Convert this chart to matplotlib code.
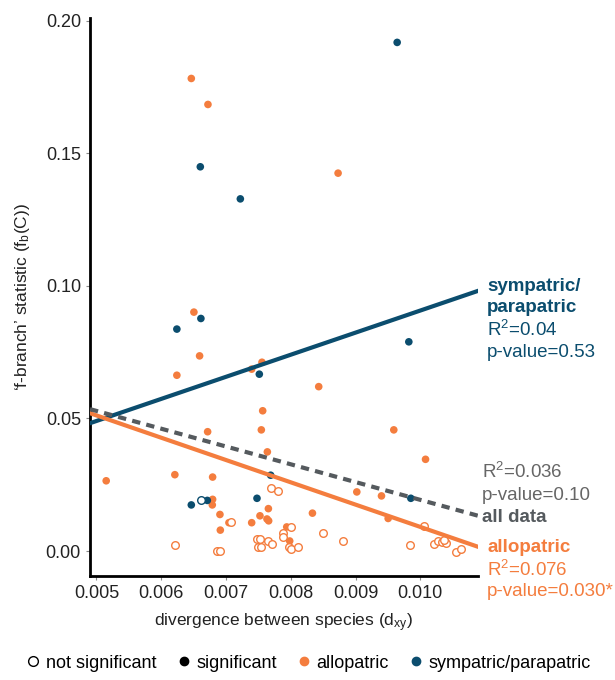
import matplotlib.pyplot as plt
from matplotlib.lines import Line2D
import numpy as np

plt.rcParams['font.family'] = ['Liberation Sans', 'DejaVu Sans']
plt.rcParams['mathtext.fontset'] = 'custom'
plt.rcParams['mathtext.rm'] = 'Liberation Sans'
plt.rcParams['mathtext.it'] = 'Liberation Sans'

orange = '#F47D3E'
blue = '#0B4D6E'
grey = '#555A5E'

# sympatric/parapatric points (dxy, fb)
symp_sig_x = [0.009642, 0.006603, 0.007221, 0.006612, 0.006241, 0.009822, 0.007514,
              0.007689, 0.009853, 0.006464, 0.006711, 0.007478]
symp_sig_y = [0.1918, 0.1449, 0.1328, 0.0877, 0.0837, 0.0789, 0.0667,
              0.0286, 0.0199, 0.0174, 0.0191, 0.0199]
symp_ns_x = [0.006607]
symp_ns_y = [0.0194]

# allopatric points
allo_sig_x = [0.006464, 0.006721, 0.008730, 0.006504, 0.006592, 0.007555, 0.007396, 0.006241,
              0.008431, 0.007566, 0.007545, 0.006716, 0.009590, 0.007638, 0.010080, 0.005150,
              0.006210, 0.006793, 0.009019, 0.009400, 0.006793, 0.006788, 0.007654, 0.007524,
              0.006906, 0.008334, 0.009503, 0.007632, 0.007658, 0.007045, 0.007396, 0.006912,
              0.007937, 0.007983]
allo_sig_y = [0.1782, 0.1684, 0.1425, 0.0901, 0.0736, 0.0712, 0.0686, 0.0663,
              0.0620, 0.0529, 0.0457, 0.0450, 0.0457, 0.0374, 0.0346, 0.0265,
              0.0288, 0.0279, 0.0223, 0.0208, 0.0195, 0.0174, 0.0160, 0.0133,
              0.0138, 0.0143, 0.0123, 0.0121, 0.0114, 0.0107, 0.0107, 0.0079,
              0.0091, 0.0038]
allo_ns_x = [0.007700, 0.007802, 0.007076, 0.008003, 0.007875, 0.007880, 0.008498, 0.008813,
             0.010064, 0.006206, 0.007473, 0.007524, 0.007493, 0.007545, 0.007647, 0.007705,
             0.007973, 0.008003, 0.008111, 0.006859, 0.006912, 0.009838, 0.010213, 0.010275,
             0.010337, 0.010394, 0.010363, 0.010544, 0.010631]
allo_ns_y = [0.0237, 0.0226, 0.0108, 0.0091, 0.0068, 0.0053, 0.0068, 0.0038,
             0.0093, 0.0023, 0.0044, 0.0046, 0.0014, 0.0014, 0.0037, 0.0028,
             0.0016, 0.0009, 0.0014, 0.0001, 0.0001, 0.0023, 0.0028, 0.0037,
             0.0034, 0.0031, 0.0040, -0.0003, 0.0006]

# regression fits: intercept, slope
fit_symp = (0.0074, 8.33)
fit_allo = (0.0932, -8.41)
fit_all = (0.0864, -6.71)

xlim = (0.0049, 0.01089)
ylim = (-0.0094, 0.201)

fig = plt.figure(figsize=(6.15, 6.8), dpi=100)
ax = fig.add_axes([90 / 615, 1 - 576 / 680, 388 / 615, 558 / 680])

ax.scatter(allo_sig_x, allo_sig_y, s=30, color=orange, edgecolor='none', zorder=3)
ax.scatter(allo_ns_x, allo_ns_y, s=30, facecolor='white', edgecolor=orange, linewidth=1, zorder=3)
ax.scatter(symp_sig_x, symp_sig_y, s=30, color=blue, edgecolor='none', zorder=3)
ax.scatter(symp_ns_x, symp_ns_y, s=30, facecolor='white', edgecolor=blue, linewidth=1, zorder=3)

xs = np.array(xlim)
ax.plot(xs, fit_symp[0] + fit_symp[1] * xs, color=blue, linewidth=3, zorder=4)
ax.plot(xs, fit_allo[0] + fit_allo[1] * xs, color=orange, linewidth=3, zorder=4)
ax.plot(xs, fit_all[0] + fit_all[1] * xs, color=grey, linewidth=3, linestyle=(0, (2, 1.5)), zorder=4)

ax.set_xlim(xlim)
ax.set_ylim(ylim)
ax.set_xticks([0.005, 0.006, 0.007, 0.008, 0.009, 0.010])
ax.set_xticklabels(['0.005', '0.006', '0.007', '0.008', '0.009', '0.010'])
ax.set_yticks([0.00, 0.05, 0.10, 0.15, 0.20])
ax.set_yticklabels(['0.00', '0.05', '0.10', '0.15', '0.20'])
ax.tick_params(labelsize=13, length=3, color='#888888', labelcolor='#222222')
for side in ['top', 'right']:
    ax.spines[side].set_visible(False)
for side in ['left', 'bottom']:
    ax.spines[side].set_linewidth(2)

ax.set_xlabel('divergence between species (d$_{\\mathrm{xy}}$)', fontsize=12.5, color='#222222', labelpad=7)
ax.set_ylabel('‘f-branch’ statistic (f$_{\\mathrm{b}}$(C))', fontsize=12.5, color='#222222', labelpad=10)

# annotations to the right of the plot
def ftxt(px, py, s, color, bold=False):
    fig.text(px / 615, 1 - py / 680, s, color=color, fontsize=13.5,
             fontweight='bold' if bold else 'normal', va='center', ha='left')

ftxt(487, 286, 'sympatric/', blue, True)
ftxt(487, 308, 'parapatric', blue, True)
ftxt(487, 330, 'R$^{2}$=0.04', blue)
ftxt(487, 352, 'p-value=0.53', blue)

ftxt(482, 472, 'R$^{2}$=0.036', '#666666')
ftxt(482, 495, 'p-value=0.10', '#666666')
ftxt(482, 517, 'all data', grey, True)

ftxt(487, 548, 'allopatric', orange, True)
ftxt(487, 570, 'R$^{2}$=0.076', orange)
ftxt(487, 592, 'p-value=0.030*', orange)

handles = [
    Line2D([], [], marker='o', linestyle='', markersize=7, markerfacecolor='white', markeredgecolor='black'),
    Line2D([], [], marker='o', linestyle='', markersize=6, color='black'),
    Line2D([], [], marker='o', linestyle='', markersize=6, color=orange),
    Line2D([], [], marker='o', linestyle='', markersize=6, color=blue),
]
labels = ['not significant', 'significant', 'allopatric', 'sympatric/parapatric']
fig.legend(handles, labels, loc='center', bbox_to_anchor=(0.5, 1 - 663 / 680), ncol=4,
           frameon=False, fontsize=13, handletextpad=0.2, columnspacing=1.0, handlelength=1.0)

plt.savefig('out.png', dpi=100)
